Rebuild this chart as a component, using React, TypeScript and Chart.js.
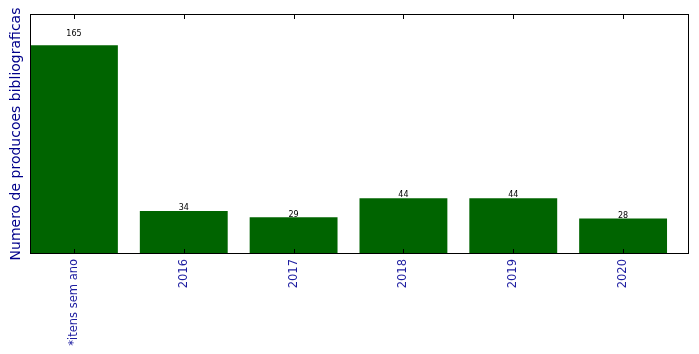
import React, { useEffect, useRef } from "react";
import { Chart, registerables } from "chart.js";

Chart.register(...registerables);

const categories = ["*itens sem ano", "2016", "2017", "2018", "2019", "2020"];
const counts = [165, 34, 29, 44, 44, 28];
const yTitle = "Numero de producoes bibliograficas";

const frameAndLabels = {
  id: "frameAndLabels",
  afterDatasetsDraw(chart: any) {
    const { ctx, chartArea, scales } = chart;
    const { left, right, top, bottom } = chartArea;
    ctx.save();
    // value labels
    ctx.fillStyle = "#000000";
    ctx.font = "8px 'DejaVu Sans'";
    ctx.textAlign = "center";
    ctx.textBaseline = "middle";
    counts.forEach((v, i) => {
      const x = scales.x.getPixelForValue(i);
      const y = scales.y.getPixelForValue(v * 1.05) - 0.5;
      ctx.fillText(String(v), x, y);
    });
    // frame
    ctx.strokeStyle = "#000000";
    ctx.lineWidth = 1;
    ctx.strokeRect(Math.round(left) + 0.5, Math.round(top) + 0.5, Math.round(right - left) - 1, Math.round(bottom - top) - 1);
    // inward ticks top and bottom
    categories.forEach((_, i) => {
      const x = Math.round(scales.x.getPixelForValue(i)) + 0.5;
      ctx.beginPath();
      ctx.moveTo(x, top);
      ctx.lineTo(x, top + 5);
      ctx.moveTo(x, bottom);
      ctx.lineTo(x, bottom - 5);
      ctx.stroke();
    });
    ctx.restore();
  },
};

export default function App() {
  const ref = useRef<HTMLCanvasElement | null>(null);
  useEffect(() => {
    document.body.style.margin = "0";
    const canvas = ref.current!;
    const chart = new Chart(canvas, {
      type: "bar",
      data: {
        datasets: [
          {
            data: counts.map((v, i) => ({ x: i, y: v })),
            backgroundColor: "#006400",
            borderWidth: 0,
            barPercentage: 0.8,
            categoryPercentage: 1,
          },
        ],
      },
      plugins: [frameAndLabels],
      options: {
        responsive: false,
        animation: false,
        devicePixelRatio: 1,
        layout: { padding: { top: 14, right: 10, left: 0, bottom: 0 } },
        plugins: { legend: { display: false }, tooltip: { enabled: false } },
        scales: {
          x: {
            type: "linear",
            offset: false,
            min: -0.4,
            max: 5.6,
            grid: { display: false, drawTicks: false, offset: false },
            border: { display: false },
            afterBuildTicks: (scale: any) => {
              scale.ticks = categories.map((_, i) => ({ value: i }));
            },
            afterFit: (scale: any) => {
              scale.height = 100;
            },
            ticks: {
              autoSkip: false,
              minRotation: 90,
              maxRotation: 90,
              padding: 5,
              color: "#1c1ca0",
              font: { family: "'DejaVu Sans'", size: 11.5 },
              callback: (value: any) => categories[value as number] ?? "",
            },
          },
          y: {
            min: 0,
            max: 165 * 1.15,
            grid: { display: false, drawTicks: false },
            border: { display: false },
            ticks: { display: false },
            afterFit: (scale: any) => {
              scale.width = 30;
            },
            title: {
              display: true,
              text: yTitle,
              color: "#00008B",
              font: { family: "'DejaVu Sans'", size: 14 },
              padding: { top: 8, bottom: 0 },
            },
          },
        },
      },
    } as any);
    return () => chart.destroy();
  }, []);
  return <canvas ref={ref} width={699} height={354} style={{ display: "block" }} />;
}
